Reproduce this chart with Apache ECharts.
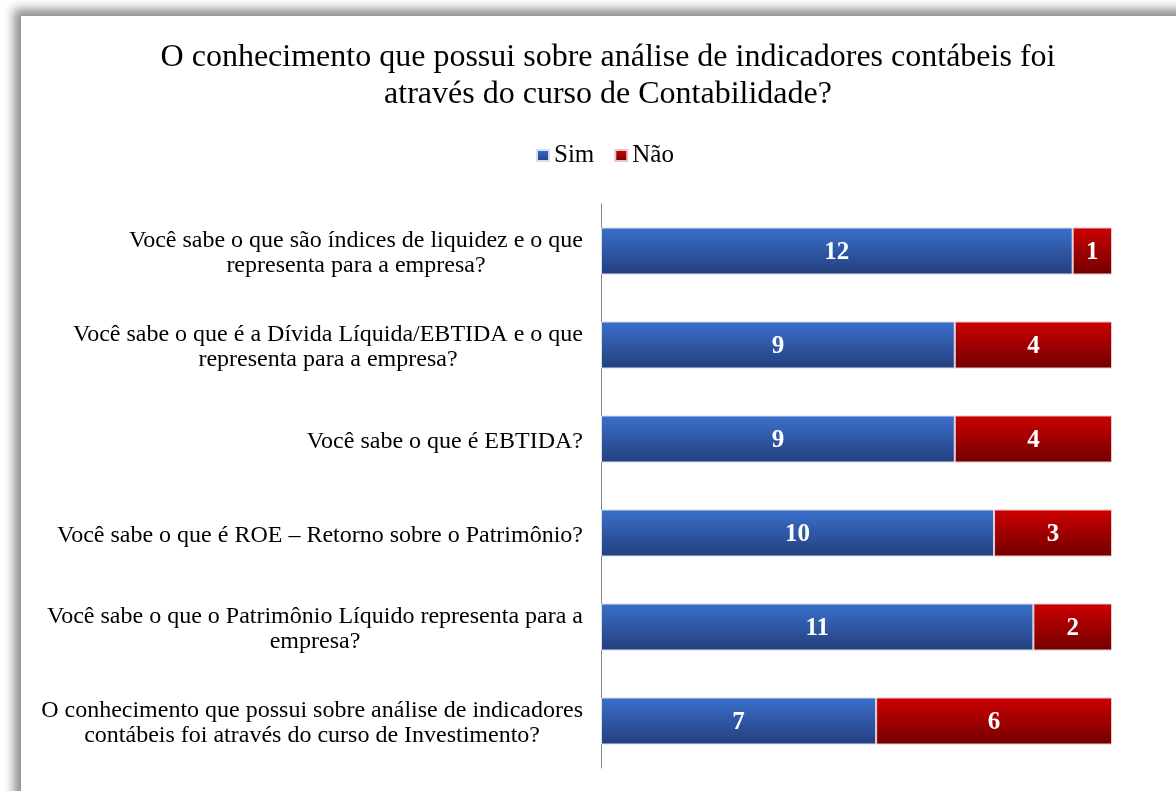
<!DOCTYPE html>
<html>
<head>
<meta charset="utf-8">
<script src="https://cdn.jsdelivr.net/npm/echarts@6/dist/echarts.min.js"></script>
<style>
  html, body { margin: 0; padding: 0; background: #ffffff; width: 1176px; height: 791px; overflow: hidden; }
  #panel {
    position: absolute; left: 21px; top: 16px; width: 1200px; height: 820px;
    background: #ffffff;
    box-shadow: -4px -4px 10px 3px rgba(0,0,0,0.45);
  }
  #chart { position: absolute; left: 0; top: 0; width: 1176px; height: 791px; }
</style>
</head>
<body>
<div id="panel"></div>
<div id="chart"></div>
<script>
// Survey questions (top to bottom)
const categories = [
  'Você sabe o que são índices de liquidez e o que\nrepresenta para a empresa?',
  'Você sabe o que é a Dívida Líquida/EBTIDA e o que\nrepresenta para a empresa?',
  'Você sabe o que é EBTIDA?',
  'Você sabe o que é ROE – Retorno sobre o Patrimônio?',
  'Você sabe o que o Patrimônio Líquido representa para a\nempresa?',
  'O conhecimento que possui sobre análise de indicadores\ncontábeis foi através do curso de Investimento?'
];
const simValues = [12, 9, 9, 10, 11, 7];
const naoValues = [1, 4, 4, 3, 2, 6];
const seriesNames = ['Sim', 'Não'];
const titleText = 'O conhecimento que possui sobre análise de indicadores contábeis foi\natravés do curso de Contabilidade?';

const serif = '"Liberation Serif", "Times New Roman", "DejaVu Serif", serif';

function grad(top, bottom) {
  return new echarts.graphic.LinearGradient(0, 0, 0, 1, [
    { offset: 0, color: top },
    { offset: 1, color: bottom }
  ]);
}

const chart = echarts.init(document.getElementById('chart'), null, { renderer: 'canvas' });

const valueLabel = {
  show: true,
  position: 'inside',
  offset: [0, 2],
  color: '#ffffff',
  fontFamily: serif,
  fontWeight: 'bold',
  fontSize: 25
};

chart.setOption({
  animation: false,
  title: {
    text: titleText,
    left: 603,
    textAlign: 'center',
    top: 34,
    textStyle: {
      fontFamily: serif,
      fontWeight: 'normal',
      fontSize: 32,
      lineHeight: 37,
      color: '#000000'
    }
  },
  legend: {
    data: seriesNames,
    left: 531,
    top: 138,
    itemWidth: 12,
    itemHeight: 11,
    itemGap: 20,
    icon: 'rect',
    textStyle: { fontFamily: serif, fontSize: 25, color: '#000000' }
  },
  grid: { left: 601, top: 204, width: 511, height: 564, containLabel: false },
  xAxis: {
    type: 'value',
    min: 0,
    max: 13,
    show: false
  },
  yAxis: {
    type: 'category',
    data: categories,
    inverse: true,
    axisLine: { show: true, lineStyle: { color: '#868686', width: 1 } },
    axisTick: { show: false },
    axisLabel: {
      margin: 18,
      align: 'right',
      padding: [5, 0, 0, 0],
      fontFamily: serif,
      fontSize: 24,
      lineHeight: 25,
      color: '#000000',
      formatter: function (v) {
        return v.split('\n').map(function (l) { return '{c|' + l + '}'; }).join('\n');
      },
      rich: {
        c: { align: 'center', fontFamily: serif, fontSize: 24, lineHeight: 25, color: '#000000' }
      }
    }
  },
  series: [
    {
      name: seriesNames[0],
      type: 'bar',
      stack: 'total',
      data: simValues,
      barCategoryGap: '50%',
      itemStyle: {
        color: grad('#3b70cd', '#233f7c'),
        borderColor: '#d6def0',
        borderWidth: 1
      },
      label: valueLabel
    },
    {
      name: seriesNames[1],
      type: 'bar',
      stack: 'total',
      data: naoValues,
      barCategoryGap: '50%',
      itemStyle: {
        color: grad('#cc0000', '#730000'),
        borderColor: '#ecc6c6',
        borderWidth: 1
      },
      label: valueLabel
    }
  ]
});
</script>
</body>
</html>
